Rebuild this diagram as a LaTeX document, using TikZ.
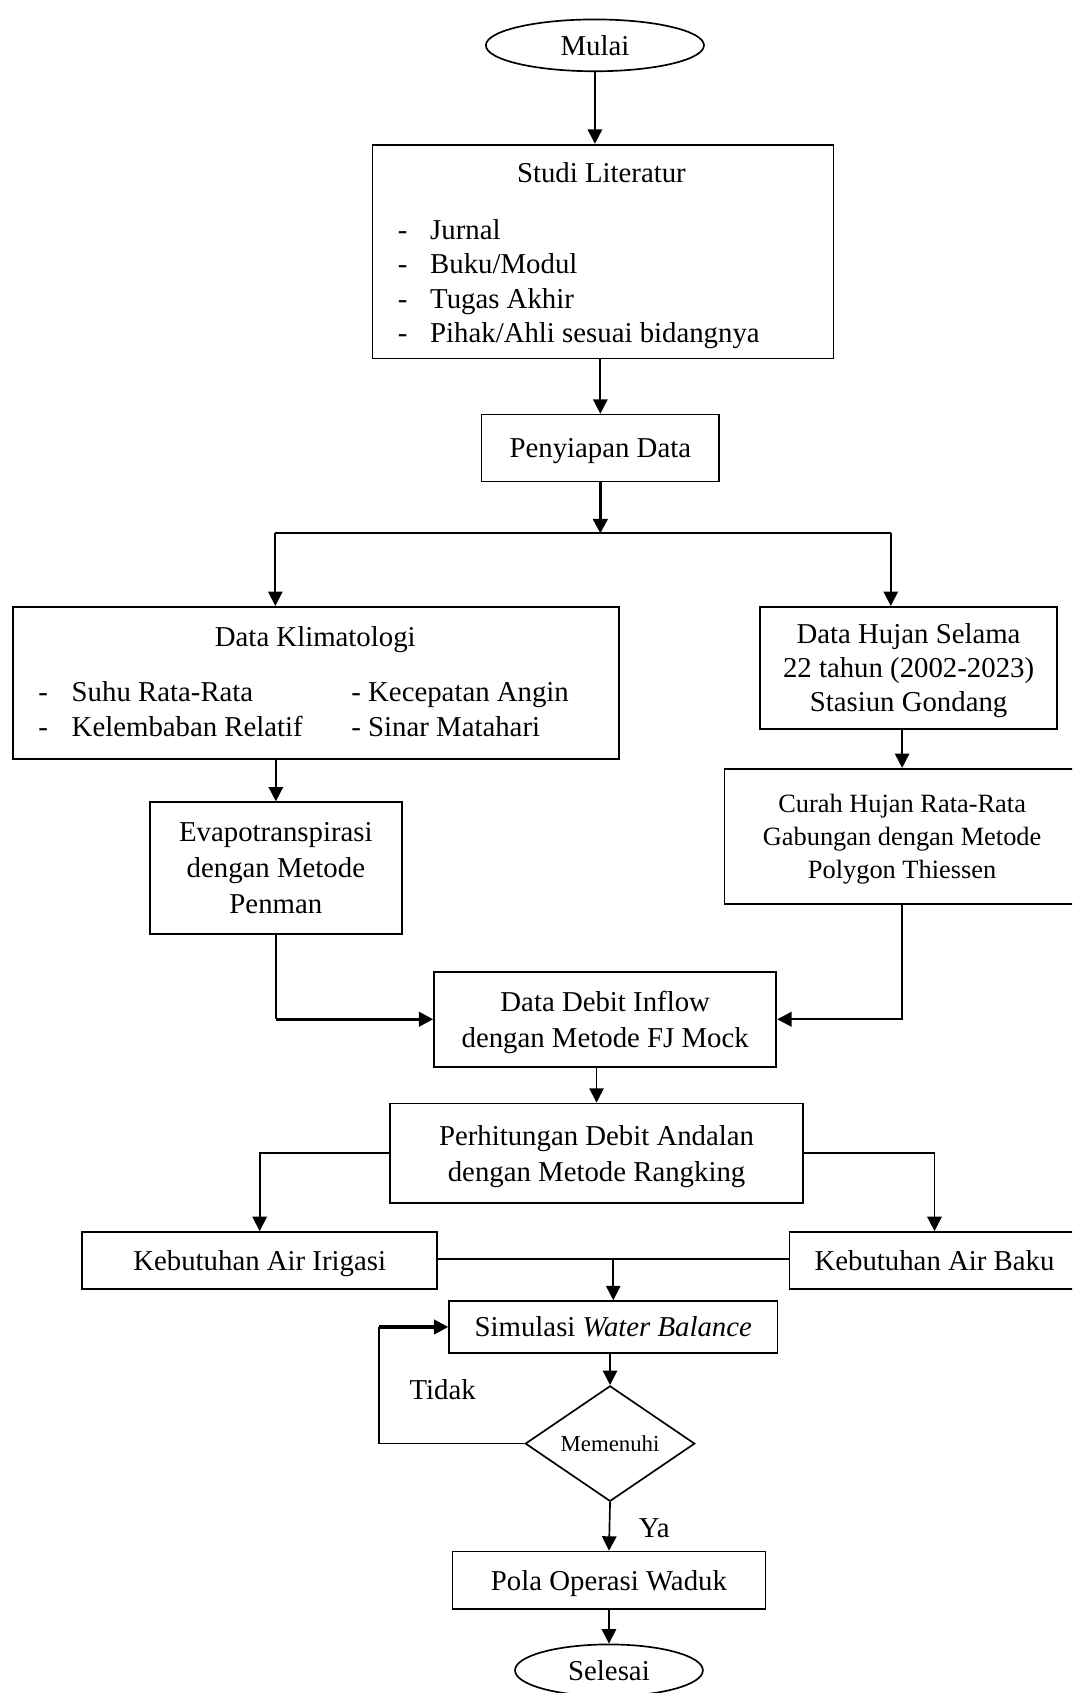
\documentclass[tikz,border=0pt]{standalone}
\usepackage{fontspec}
\setmainfont{Liberation Serif}
\usetikzlibrary{shapes.geometric,arrows.meta}

\tikzset{
	box/.style={draw, line width=0.7pt, align=center, inner sep=2pt, text depth=0pt},
	term/.style={draw, ellipse, line width=0.7pt, inner sep=0pt},
	decision/.style={draw, diamond, line width=0.7pt, inner sep=0pt, shape aspect=1.47},
	txt/.style={inner sep=0pt, text height=1.5ex, text depth=.25ex},
	ln/.style={line width=0.7pt},
	arr/.style={line width=0.7pt, -{Triangle[length=6pt,width=6pt]}},
	tharr/.style={line width=1.3pt, -{Triangle[length=6pt,width=6pt]}},
}

\begin{document}
\begin{tikzpicture}[x=0.45pt, y=-0.45pt, font=\fontsize{12}{14.2}\selectfont]
		\clip (0,0) rectangle (993,1568);

		% start and literature
		\node[term, minimum width=90.9pt, minimum height=21.6pt] (mulai) at (551,42) {Mulai};
		\node[box, minimum width=192.2pt, minimum height=89.1pt] (studi) at (558.5,233) {};
		\node[txt] (studiT) at (557,163) {Studi Literatur};
		\foreach \i/\t in {0/Jurnal, 1/Buku\slash Modul, 2/Tugas Akhir, 3/Pihak\slash Ahli sesuai bidangnya} {
			\node[txt, anchor=west] (dash\i) at (368,215+32*\i) {-};
			\node[txt, anchor=west] (item\i) at (398,215+32*\i) {\t};
		}
		\node[box, minimum width=99pt, minimum height=27.9pt] (siap) at (556,415) {Penyiapan Data};

		% split
		\coordinate (split) at (556,494);
		\coordinate (splitL) at (255,494);
		\coordinate (splitR) at (825,494);

		% climate branch
		\node[box, minimum width=252.45pt, minimum height=63.45pt] (klim) at (292.5,632.5) {};
		\node[txt] (klimT) at (292,592) {Data Klimatologi};
		\node[txt, anchor=west] (kd1) at (35,643) {-};
		\node[txt, anchor=west] (k1) at (66,643) {Suhu Rata-Rata};
		\node[txt, anchor=west] (kd2) at (35,676) {-};
		\node[txt, anchor=west] (k2) at (66,676) {Kelembaban Relatif};
		\node[txt, anchor=west] (k3) at (325,643) {- Kecepatan Angin};
		\node[txt, anchor=west] (k4) at (325,676) {- Sinar Matahari};
		\node[box, minimum width=104.85pt, minimum height=54.9pt, font=\fontsize{12}{15}\selectfont] (evapo) at (255.5,804) {Evapotranspirasi\\dengan Metode\\Penman};

		% rain branch
		\node[box, minimum width=123.75pt, minimum height=50.85pt] (hujan) at (841.5,618.5) {Data Hujan Selama\\22 tahun (2002-2023)\\Stasiun Gondang};
		\node[box, minimum width=148pt, minimum height=56.25pt, font=\fontsize{11}{13.7}\selectfont] (curah) at (835.5,774.5) {Curah Hujan Rata-Rata\\Gabungan dengan Metode\\Polygon Thiessen};

		% discharge
		\node[box, minimum width=142.65pt, minimum height=39.6pt, font=\fontsize{12}{15.2}\selectfont] (debit) at (560.5,944) {Data Debit Inflow\\dengan Metode FJ Mock};
		\node[box, minimum width=172.35pt, minimum height=41.4pt, font=\fontsize{12}{14.9}\selectfont] (rank) at (552.5,1068) {Perhitungan Debit Andalan\\dengan Metode Rangking};

		% demands
		\node[box, minimum width=148pt, minimum height=23.85pt] (irig) at (240.5,1167.5) {Kebutuhan Air Irigasi};
		\node[box, minimum width=121pt, minimum height=23.85pt] (baku) at (865.5,1167.5) {Kebutuhan Air Baku};
		\coordinate (join) at (568,1166);

		% simulation
		\node[box, minimum width=136.8pt, minimum height=21.6pt] (sim) at (568,1229) {Simulasi \textit{Water Balance}};
		\node[decision, minimum width=70.65pt, minimum height=48.15pt, font=\fontsize{9.5}{11}\selectfont] (cek) at (565,1337) {Memenuhi};
		\coordinate (loopx) at (351,1337);
		\node[txt] (tidak) at (410,1290) {Tidak};
		\node[txt] (ya) at (606,1418) {Ya};
		\node[box, minimum width=130.5pt, minimum height=23.85pt] (pola) at (564,1463.5) {Pola Operasi Waduk};
		\node[term, minimum width=78.3pt, minimum height=21.6pt] (selesai) at (564,1547) {Selesai};

		% connectors
		\draw[arr] (mulai.south) -- (mulai.south |- studi.north);
		\draw[arr] (studi.south -| siap.north) -- (siap.north);
		\draw[tharr] (siap.south) -- (split);
		\draw[line width=0.8pt] (splitL) -- (splitR);
		\draw[arr] (splitL) -- (splitL |- klim.north);
		\draw[arr] (splitR) -- (splitR |- hujan.north);
		\draw[arr] (evapo.north |- klim.south) -- (evapo.north);
		\draw[arr] (curah.north |- hujan.south) -- (curah.north);
		\draw[ln] (evapo.south) -- (evapo.south |- debit.west);
		\draw[tharr] (evapo.south |- debit.west) -- (debit.west);
		\draw[arr, line width=1pt] (curah.south) |- (debit.east);
		\draw[arr] (debit.south -| rank.north) -- (rank.north);
		\draw[arr] (rank.west) -| (irig.north);
		\draw[arr] (rank.east) -| (baku.north);
		\draw[ln] (irig.east |- join) -- (baku.west |- join);
		\draw[arr] (join) -- (sim.north);
		\draw[arr] (sim.south -| cek.north) -- (cek.north);
		\draw[ln] (cek.west) -- (loopx) -- (loopx |- sim.west);
		\draw[tharr] (loopx |- sim.west) -- (sim.west);
		\draw[arr] (cek.south) -- (pola.north);
		\draw[arr] (pola.south) -- (selesai.north);
	\end{tikzpicture}
\end{document}
